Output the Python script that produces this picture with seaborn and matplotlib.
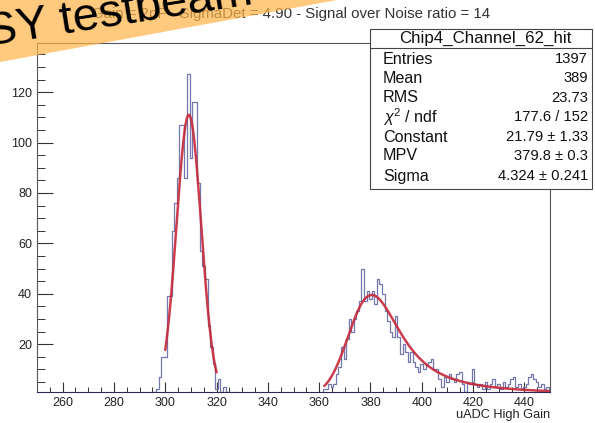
import numpy as np
import pandas as pd
import matplotlib
matplotlib.use("Agg")
import matplotlib.pyplot as plt
import seaborn as sns
from matplotlib.ticker import MultipleLocator
from matplotlib.patches import Polygon, Rectangle
from matplotlib.lines import Line2D

# ---------------- data ----------------
ped_first_bin = 295
ped_counts = [1, 1, 2, 7, 15, 15, 39, 39, 65, 76, 86, 107, 107, 86, 127, 94,
              116, 116, 84, 57, 51, 46, 27, 19, 12, 2, 6, 1, 3, 1, 1, 0, 1]
sig_first_bin = 361
sig_counts = [0, 2, 2, 4, 3, 4, 8, 11, 19, 14, 22, 30, 25, 30, 33, 37, 50, 37,
              41, 38, 41, 36, 46, 44, 40, 33, 29, 25, 23, 31, 23, 16, 20, 17,
              13, 17, 13, 11, 9, 12, 10, 12, 13, 14, 10, 10, 6, 3, 7, 5, 8, 6,
              5, 8, 9, 4, 1, 5, 4, 10, 4, 3, 4, 2, 5, 2, 4, 6, 3, 4, 2, 5, 3,
              4, 6, 7, 3, 4, 2, 3, 4, 7, 8, 6, 5, 3, 4, 2, 3]

# fit functions (pedestal gaussian, signal landau smeared by a gaussian)
gaus_amp, gaus_mean, gaus_sigma = 111.0, 309.2, 4.8
gaus_range = (300.0, 320.0)
landau_peak_y, landau_peak_x = 39.5, 380.5
landau_sigma, landau_smear = 4.324, 6.2
landau_range = (362.0, 450.0)

title_text = "Gain = 2pF - SigmaDet = 4.90 - Signal over Noise ratio = 14"
banner_text = "SY testbeam"
stats_title = "Chip4_Channel_62_hit"
stats_names = ["Entries", "Mean", "RMS", r"$\chi^{2}$ / ndf", "Constant", "MPV", "Sigma"]
stats_values = ["1397", "389", "23.73", "177.6 / 152", "21.79 \u00b1 1.33",
                "379.8 \u00b1 0.3", "4.324 \u00b1 0.241"]
x_label = "uADC High Gain"

# ---------------- style ----------------
sns.set_style("ticks")
plt.rcParams["font.family"] = ["Liberation Sans", "DejaVu Sans"]
plt.rcParams["mathtext.fontset"] = "custom"
plt.rcParams["mathtext.rm"] = "Liberation Sans"
plt.rcParams["mathtext.it"] = "Liberation Sans:italic"

W, H = 595, 423
def fx(x):
    return x / W
def fy(y):
    return 1 - y / H

fig = plt.figure(figsize=(5.95, 4.23), dpi=100)
ax = fig.add_axes([fx(37), fy(392), 513 / W, 349 / H])

# histogram table
centers = np.arange(250, 451)
counts = np.zeros(centers.size)
counts[ped_first_bin - 250: ped_first_bin - 250 + len(ped_counts)] = ped_counts
counts[sig_first_bin - 250: sig_first_bin - 250 + len(sig_counts)] = sig_counts
hist_df = pd.DataFrame({"adc": centers.astype(float), "n": counts})
edges = [249.5 + i for i in range(202)]

sns.histplot(data=hist_df, x="adc", weights="n", bins=edges, element="step",
             fill=False, color="#7478ad", linewidth=0.9, ax=ax)

# gaussian fit curve
xg = np.linspace(gaus_range[0], gaus_range[1], 200)
yg = gaus_amp * np.exp(-0.5 * ((xg - gaus_mean) / gaus_sigma) ** 2)

# landau (numerical density) convolved with a gaussian
def landau_pdf(lam):
    t = np.linspace(1e-9, 60, 60001)
    base = -t * np.log(t)
    s = np.sin(np.pi * t)
    out = np.zeros_like(lam)
    for i, l in enumerate(lam):
        if l < -4.5:
            continue
        out[i] = np.trapezoid(np.exp(base - l * t) * s, t) / np.pi
    return np.clip(out, 0, None)

step = 0.25
grid = np.arange(300.0, 520.0, step)
lan = landau_pdf((grid - 380.0) / landau_sigma)
k = np.arange(-40, 40 + step, step)
kern = np.exp(-0.5 * (k / landau_smear) ** 2)
conv = np.convolve(lan, kern, mode="same")
shift = landau_peak_x - grid[np.argmax(conv)]
xl = np.linspace(landau_range[0], landau_range[1], 300)
yl = np.interp(xl - shift, grid, conv)
yl = yl / conv.max() * landau_peak_y

fit_df = pd.concat([
    pd.DataFrame({"x": xg, "y": yg, "f": "gaus"}),
    pd.DataFrame({"x": xl, "y": yl, "f": "landau"}),
], ignore_index=True)
sns.lineplot(data=fit_df, x="x", y="y", units="f", estimator=None,
             color="#c62839", linewidth=1.8, alpha=0.9, ax=ax, sort=False)

ax.set_xlim(250, 450)
ax.set_ylim(1.0, 139.5)
ax.set_xlabel("")
ax.set_ylabel("")
ax.xaxis.set_major_locator(MultipleLocator(20))
ax.xaxis.set_minor_locator(MultipleLocator(5))
ax.yaxis.set_major_locator(MultipleLocator(20))
ax.yaxis.set_minor_locator(MultipleLocator(5))
ax.tick_params(axis="x", which="major", direction="in", length=7.5, width=0.8,
               color="#333333", labelsize=9, pad=3.5, labelcolor="#222222")
ax.tick_params(axis="x", which="minor", direction="in", length=3.8, width=0.7,
               color="#333333")
ax.tick_params(axis="y", which="major", direction="in", length=11.5, width=0.8,
               color="#333333", labelsize=9, pad=3.5, labelcolor="#222222")
ax.tick_params(axis="y", which="minor", direction="in", length=5.8, width=0.7,
               color="#333333")
for sp in ax.spines.values():
    sp.set_color("#555555")
    sp.set_linewidth(0.8)
ax.spines["bottom"].set_color("#2a2a55")

# x axis title
fig.text(fx(550), fy(415), x_label, ha="right", va="center", fontsize=9.2,
         color="#222222")

# histogram title
fig.text(fx(490), fy(14), title_text, ha="right", va="center", fontsize=10.8,
         color="#333333")

# stats box
box = Rectangle((fx(370), fy(189)), (592 - 370) / W, (189 - 29) / H,
                transform=fig.transFigure, facecolor="white",
                edgecolor="#444444", linewidth=0.8, zorder=5)
fig.add_artist(box)
fig.add_artist(Line2D([fx(370), fx(592)], [fy(48), fy(48)],
                      transform=fig.transFigure, color="#444444",
                      linewidth=0.8, zorder=6))
fig.text(fx(485), fy(38), stats_title, ha="center", va="center",
         fontsize=12.2, color="#111111", zorder=7)
row_y = [59, 78, 98, 117, 137, 156, 176]
for name, val, yy in zip(stats_names, stats_values, row_y):
    fig.text(fx(383), fy(yy), name, ha="left", va="center", fontsize=11.6,
             color="#111111", zorder=7)
    fig.text(fx(588), fy(yy), val, ha="right", va="center", fontsize=10.6,
             color="#111111", zorder=7)

# orange banner
banner = Polygon([(0, 1), (fx(337), 1), (0, fy(62))], closed=True,
                 transform=fig.transFigure, facecolor="#ffb347", alpha=0.7,
                 edgecolor="none", zorder=8)
fig.add_artist(banner)
fig.text(fx(-12), fy(45.5), banner_text, ha="left", va="baseline", fontsize=34,
         rotation=9, rotation_mode="anchor", color="black", zorder=9)

fig.savefig("out.png", dpi=100)
